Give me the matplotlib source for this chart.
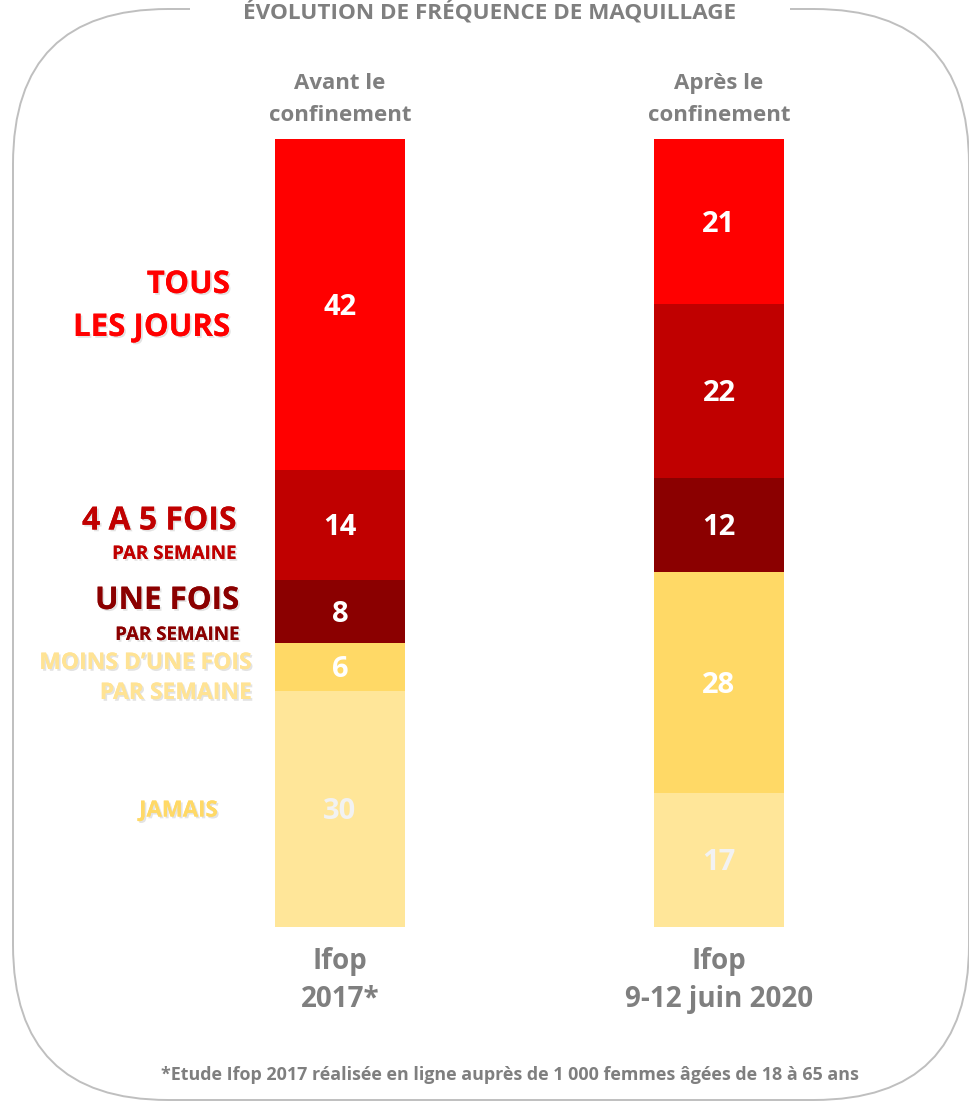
import matplotlib.pyplot as plt
import matplotlib.patheffects as pe
from matplotlib.patches import FancyBboxPatch, Rectangle

plt.rcParams["font.family"] = ["Open Sans", "DejaVu Sans"]

# data: segments from bottom to top
segments = ["Jamais", "Moins d'une fois par semaine", "Une fois par semaine",
            "4 à 5 fois par semaine", "Tous les jours"]
avant = [30, 6, 8, 14, 42]
apres = [17, 28, 12, 22, 21]
seg_colors = ["#FFE699", "#FFD966", "#8B0000", "#C00000", "#FF0000"]
value_colors = ["#F2F2F2", "white", "white", "white", "white"]

bar_heads = ["Avant le\nconfinement", "Après le\nconfinement"]
bar_feet = ["Ifop\n2017*", "Ifop\n9-12 juin 2020"]
title = "ÉVOLUTION DE FRÉQUENCE DE MAQUILLAGE"
footnote = "*Etude Ifop 2017 réalisée en ligne auprès de 1 000 femmes âgées de 18 à 65 ans"

GREY = "#7F7F7F"
W, H = 970, 1102

fig = plt.figure(figsize=(W / 100, H / 100), dpi=100)

# background layer in pixel coordinates for frame and texts
bg = fig.add_axes([0, 0, 1, 1], zorder=0)
bg.set_xlim(0, W)
bg.set_ylim(H, 0)
bg.axis("off")

frame = FancyBboxPatch((13, 9), 956, 1091, boxstyle="round,pad=0,rounding_size=155",
                       fc="none", ec="#BFBFBF", lw=1.4)
bg.add_patch(frame)
bg.add_patch(Rectangle((190, 0), 600, 20, fc="white", ec="none", zorder=3))
bg.text(490, 12, title, ha="center", va="center", color=GREY,
        fontsize=16.2, fontweight="bold", zorder=4)

# bar axes
bar_w = 130 / 379
ax = fig.add_axes([275 / W, 175 / H, 509 / W, 788 / H], zorder=1)
ax.set_xlim(-bar_w / 2, 1 + bar_w / 2)
ax.set_ylim(0, 100)
ax.axis("off")

for xi, values in enumerate([avant, apres]):
    bottom = 0
    for val, col, tcol in zip(values, seg_colors, value_colors):
        ax.bar(xi, val, bottom=bottom, width=bar_w, color=col, edgecolor="none")
        ax.text(xi, bottom + val / 2 - 0.35, str(val), ha="center", va="center",
                color=tcol, fontsize=21, fontweight="bold")
        bottom += val
    ax.text(xi, 100 + 1.6, bar_heads[xi], ha="center", va="bottom", color=GREY,
            fontsize=16, fontweight="bold", linespacing=1.7)
    ax.text(xi, -2.6, bar_feet[xi], ha="center", va="top", color=GREY,
            fontsize=20, fontweight="bold", linespacing=1.4)

shadow = [pe.withSimplePatchShadow(offset=(1.3, -1.3), shadow_rgbFace="#909090", alpha=0.25),
          pe.Normal()]

# category labels on the left
labels = [
    ("TOUS", 230, 285, 22.5, "#FF0000"),
    ("LES JOURS", 230, 328, 22.5, "#FF0000"),
    ("4 A 5 FOIS", 237, 521, 23, "#C00000"),
    ("PAR SEMAINE", 236, 554, 13.5, "#C00000"),
    ("UNE FOIS", 239, 601, 22.5, "#8B0000"),
    ("PAR SEMAINE", 239, 635, 13.5, "#8B0000"),
    ("MOINS D’UNE FOIS", 251, 663, 16.5, "#FFE394"),
    ("PAR SEMAINE", 251, 693, 16.5, "#FFE394"),
    ("JAMAIS", 218, 811, 16, "#FFD966"),
]
for txt, x, y, fs, col in labels:
    bg.text(x, y, txt, ha="right", va="center", color=col, fontsize=fs,
            fontweight="bold", path_effects=shadow, zorder=4)

bg.text(510, 1075, footnote, ha="center", va="center", color=GREY,
        fontsize=12.9, fontweight="bold", zorder=4)

fig.savefig("out.png", dpi=100)
